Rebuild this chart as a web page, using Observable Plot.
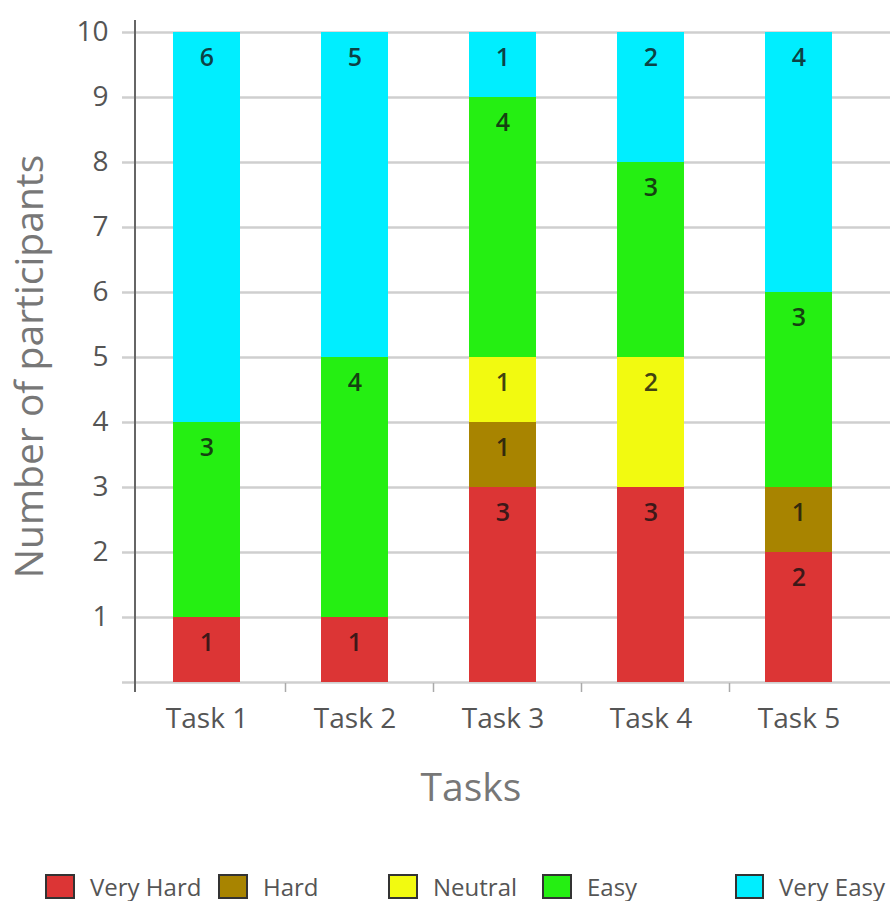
<!DOCTYPE html>
<html>
<head>
<meta charset="utf-8">
<script src="https://cdn.jsdelivr.net/npm/d3@7"></script>
<script src="https://cdn.jsdelivr.net/npm/@observablehq/plot@0.6"></script>
<style>
  html, body { margin: 0; padding: 0; background: #fff; }
  body { width: 890px; font-family: "Open Sans", sans-serif; }
  #legend { display: grid; grid-template-columns: 173px 170px 154px 193px 150px; padding-left: 45px; height: 52px; align-items: center; box-sizing: border-box; }
  .item { display: flex; align-items: center; font-size: 24px; color: #555; white-space: nowrap; }
  .sw { width: 26px; height: 21px; border: 2px solid #333; margin-right: 15px; box-sizing: content-box; }
</style>
</head>
<body>
<div id="chart"></div>
<div id="legend"></div>
<script>
const tasks = ["Task 1", "Task 2", "Task 3", "Task 4", "Task 5"];
const levels = ["Very Hard", "Hard", "Neutral", "Easy", "Very Easy"];
const colors = ["#dc3535", "#a88400", "#f2fa10", "#25ef12", "#00eeff"];
const veryHard = [1, 1, 3, 3, 2];
const hard     = [0, 0, 1, 0, 1];
const neutral  = [0, 0, 1, 2, 0];
const easy     = [3, 4, 4, 3, 3];
const veryEasy = [6, 5, 1, 2, 4];
const yTicks = [1, 2, 3, 4, 5, 6, 7, 8, 9, 10];

const series = [veryHard, hard, neutral, easy, veryEasy];
const data = [];
tasks.forEach((t, i) => levels.forEach((l, j) => {
  if (series[j][i] > 0) data.push({task: t, level: l, count: series[j][i]});
}));

const W = 890, H = 860;
const axisMark = (index, scales, values, dims) => {
  const x = scales.x, y = scales.y;
  const bw = x.bandwidth ? x.bandwidth() : 0;
  const g = d3.create("svg:g");
  const y0 = y(0);
  g.append("line").attr("x1", 135).attr("x2", 135)
    .attr("y1", dims.marginTop - 12).attr("y2", y0 + 10)
    .attr("stroke", "#666").attr("stroke-width", 2);
  for (let i = 0; i < tasks.length - 1; i++) {
    const bx = (x(tasks[i]) + bw + x(tasks[i + 1])) / 2 + 5;
    g.append("line").attr("x1", bx).attr("x2", bx)
      .attr("y1", y0 + 1).attr("y2", y0 + 10)
      .attr("stroke", "#aaa").attr("stroke-width", 1.5);
  }
  return g.node();
};

const chart = Plot.plot({
  width: W,
  height: H,
  marginLeft: 135,
  marginRight: 0,
  marginTop: 32,
  marginBottom: H - 682,
  style: {fontFamily: "Open Sans, sans-serif", background: "#fff"},
  x: {domain: tasks, range: [132, 872], paddingInner: 0.55, paddingOuter: 0.275, label: null, axis: null},
  y: {domain: [0, 10], label: null, axis: null},
  color: {domain: levels, range: colors},
  marks: [
    Plot.ruleY([0, ...yTicks], {stroke: "#cfcfcf", strokeWidth: 2.5, insetLeft: -13}),
    Plot.barY(data, {x: "task", y: "count", fill: "level", order: levels}),
    Plot.text(data, Plot.stackY2({x: "task", y: "count", z: "level", order: levels, text: d => String(d.count),
      dy: 25, fontSize: 25, fontWeight: 600, fill: "#111", fillOpacity: 0.8})),
    Plot.axisY(yTicks, {tickSize: 0, tickPadding: 27, fontSize: 28, color: "#555", label: null, tickFormat: d => String(d)}),
    Plot.axisX({tickSize: 0, tickPadding: 26, fontSize: 28, color: "#555", label: null}),
    axisMark,
    Plot.text(["Tasks"], {frameAnchor: "bottom", dy: 118, dx: -42, fontSize: 39, fill: "#777"}),
    Plot.text(["Number of participants"], {frameAnchor: "left", textAnchor: "middle", dx: -105, dy: 9, rotate: -90, fontSize: 39, fill: "#777"})
  ]
});
document.getElementById("chart").appendChild(chart);

const legend = document.getElementById("legend");
levels.forEach((l, i) => {
  const it = document.createElement("div");
  it.className = "item";
  const sw = document.createElement("span");
  sw.className = "sw";
  sw.style.background = colors[i];
  const tx = document.createElement("span");
  tx.textContent = l;
  it.appendChild(sw); it.appendChild(tx);
  legend.appendChild(it);
});
</script>
</body>
</html>
